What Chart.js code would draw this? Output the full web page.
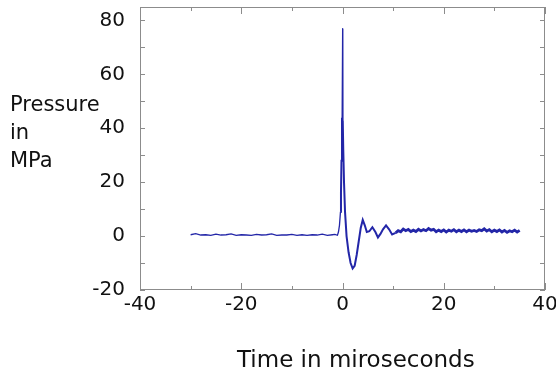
<!DOCTYPE html>
<html>
<head>
<meta charset="utf-8">
<script src="https://cdn.jsdelivr.net/npm/chart.js@4"></script>
<style>
  body { margin: 0; background: #fff; }
  #wrap { position: relative; width: 556px; height: 378px; }
  .lbl { position: absolute; font-family: "DejaVu Sans", sans-serif; color: #111; white-space: nowrap; }
  #ytitle { left: 10px; top: 90px; font-size: 21px; line-height: 28px; }
  #xtitle { left: 237px; top: 346px; font-size: 23px; }
</style>
</head>
<body>
<div id="wrap">
  <canvas id="chart" width="556" height="378"></canvas>
  <div id="ytitle" class="lbl">Pressure<br>in<br>MPa</div>
  <div id="xtitle" class="lbl">Time in miroseconds</div>
</div>
<script>
// values (time in microseconds, pressure in MPa)
const preTime = [-30,-29,-28,-27,-26,-25,-24,-23,-22,-21,-20,-19,-18,-17,-16,-15,-14,-13,-12,-11,-10,-9,-8,-7,-6,-5,-4,-3,-2];
const prePressure = [0.5,0.9,0.4,0.5,0.3,0.7,0.4,0.5,0.8,0.3,0.5,0.4,0.3,0.6,0.4,0.5,0.8,0.3,0.4,0.4,0.6,0.3,0.5,0.3,0.5,0.4,0.7,0.3,0.5];

const shockTime = [-1.5,-1,-0.8,-0.6,-0.4,-0.3,-0.2,-0.1,0,0.05,0.15,0.3,0.5,0.8,1.2,1.6,2,2.4,2.8,3.2,3.6,4,4.4,4.8,5.3,5.9,6.5,7,7.5,8,8.6,9.2,9.8];
const shockPressure = [0.6,0.3,1.5,4,9,16,28,44,77,43,32,20,9,0,-6,-10,-12,-11,-7,-2,3,6,4,1.5,1.8,3.3,1.5,-0.5,0.8,2.5,4,2.5,0.6];

const tailTime = [10.5,11,11.5,12,12.5,13,13.5,14,14.5,15,15.5,16,16.5,17,17.5,18,18.5,19,19.5,20,
  20.5,21,21.5,22,22.5,23,23.5,24,24.5,25,25.5,26,26.5,27,27.5,28,28.5,29,29.5,30,
  30.5,31,31.5,32,32.5,33,33.5,34,34.5,35];
const tailPressure = [1.2,2.0,1.6,2.6,2.0,2.5,1.7,2.2,1.7,2.5,1.9,2.4,2.0,2.8,2.2,2.5,1.6,2.2,1.7,2.3,
  1.5,2.2,1.8,2.4,1.6,2.2,1.7,2.3,1.6,2.2,1.8,2.1,1.7,2.3,2.0,2.7,1.9,2.4,1.6,2.2,
  1.7,2.3,1.5,2.1,1.4,2.0,1.6,2.2,1.5,2.1];

const xTicks = [-40,-30,-20,-10,0,10,20,30,40];
const yTicks = [-20,-10,0,10,20,30,40,50,60,70,80];

const times = preTime.concat(shockTime, tailTime);
const pressures = prePressure.concat(shockPressure, tailPressure);
const points = times.map((t, i) => ({ x: t, y: pressures[i] }));

// frame and inward tick marks on all four sides
const frame = {
    id: "frame",
    beforeDatasetsDraw(chart) {
        const { ctx, chartArea: a, scales: { x, y } } = chart;
        ctx.save();
        ctx.strokeStyle = "#8c8c8c";
        ctx.lineWidth = 1;
        ctx.strokeRect(a.left + 0.5, a.top + 0.5, a.right - a.left - 1, a.bottom - a.top - 1);
        ctx.beginPath();
        x.ticks.forEach(t => {
            const px = Math.round(x.getPixelForValue(t.value)) + 0.5;
            const len = t.value % 20 === 0 ? 7 : 4;
            ctx.moveTo(px, a.bottom); ctx.lineTo(px, a.bottom - len);
            ctx.moveTo(px, a.top); ctx.lineTo(px, a.top + len);
        });
        y.ticks.forEach(t => {
            const py = Math.round(y.getPixelForValue(t.value)) + 0.5;
            ctx.moveTo(a.left, py); ctx.lineTo(a.left + 5, py);
            ctx.moveTo(a.right, py); ctx.lineTo(a.right - 5, py);
        });
        ctx.stroke();
        ctx.restore();
    }
};

function segWidth(c) {
    const x0 = c.p0.parsed.x, y0 = c.p0.parsed.y, y1 = c.p1.parsed.y;
    if (y0 > 50 || y1 > 50) return 1;   // thin spike to the peak
    if (x0 >= 10) return 2.8;           // noisy tail
    if (x0 >= -0.5) return 2;
    return 1.3;
}

new Chart(document.getElementById("chart").getContext("2d"), {
    type: "line",
    data: {
        datasets: [{
            data: points,
            borderColor: "#2326a8",
            borderWidth: 1.3,
            pointRadius: 0,
            tension: 0,
            segment: { borderWidth: segWidth }
        }]
    },
    options: {
        responsive: false,
        animation: false,
        layout: { padding: { top: 7, right: 11, left: 0, bottom: 0 } },
        plugins: { legend: { display: false }, tooltip: { enabled: false } },
        scales: {
            x: {
                type: "linear", min: -40, max: 40,
                grid: { display: false, drawTicks: false },
                border: { display: false },
                afterBuildTicks: s => { s.ticks = xTicks.map(v => ({ value: v })); },
                afterFit: s => { s.height = 88; s.paddingLeft = 0; s.paddingRight = 0; },
                ticks: {
                    padding: 3, color: "#111", maxRotation: 0, autoSkip: false,
                    font: { family: "DejaVu Sans", size: 20 },
                    callback: v => v % 20 === 0 ? v : ""
                }
            },
            y: {
                min: -20, max: 85,
                grid: { display: false, drawTicks: false },
                border: { display: false },
                afterBuildTicks: s => { s.ticks = yTicks.map(v => ({ value: v })); },
                afterFit: s => { s.width = 140; s.paddingTop = 0; s.paddingBottom = 0; },
                ticks: {
                    padding: 15, color: "#111", autoSkip: false,
                    font: { family: "DejaVu Sans", size: 20 },
                    callback: v => v % 20 === 0 ? v : ""
                }
            }
        }
    },
    plugins: [frame]
});
</script>
</body>
</html>
